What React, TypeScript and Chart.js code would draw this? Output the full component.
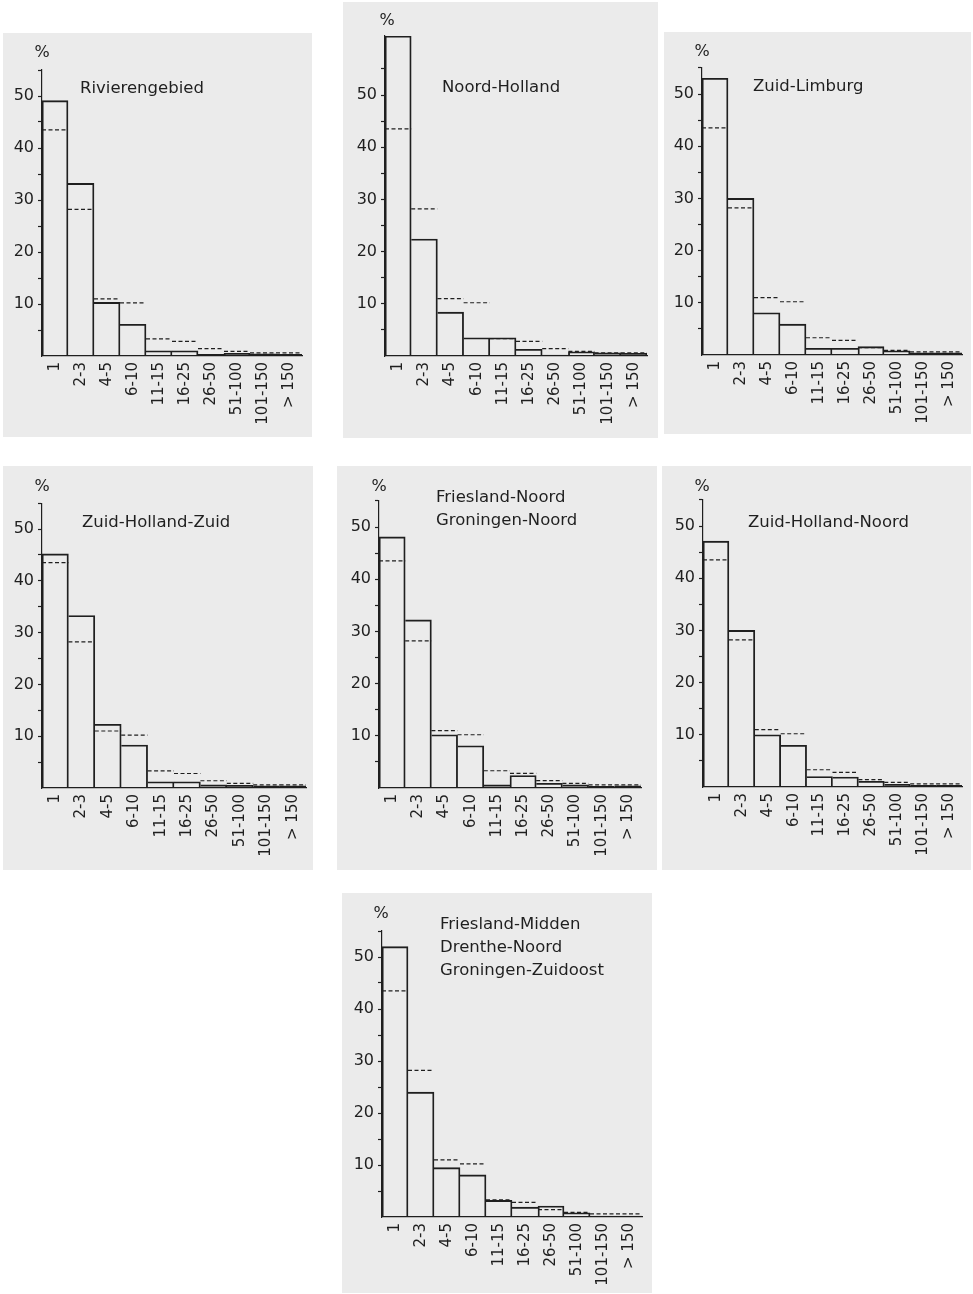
import React, { useEffect, useRef } from 'react';
import { Chart, registerables } from 'chart.js';

Chart.register(...registerables);

// ---------- data ----------
const categories = ['1', '2-3', '4-5', '6-10', '11-15', '16-25', '26-50', '51-100', '101-150', '> 150'];
const yTickLabels = [10, 20, 30, 40, 50];

// dashed reference distribution (same in every panel)
const nederland = [43.5, 28.2, 11.0, 10.2, 3.3, 2.8, 1.4, 0.9, 0.6, 0.6];

const rivierengebied = [49.1, 33.2, 10.3, 6.1, 1.0, 1.0, 0.3, 0.5, 0.4, 0.3];
const noordHolland = [61.3, 22.4, 8.4, 3.5, 3.5, 1.3, 0.2, 0.8, 0.6, 0.5];
const zuidLimburg = [53.0, 30.0, 8.1, 5.9, 1.3, 1.3, 1.6, 0.8, 0.4, 0.4];
const zuidHollandZuid = [45.2, 33.3, 12.3, 8.3, 1.2, 1.2, 0.6, 0.5, 0.4, 0.4];
const frieslandNoord = [48.1, 32.2, 10.2, 8.1, 0.6, 2.4, 0.9, 0.6, 0.3, 0.4];
const zuidHollandNoord = [47.1, 30.0, 10.0, 8.0, 2.0, 1.9, 1.1, 0.5, 0.3, 0.3];
const frieslandMidden = [52.0, 24.0, 9.5, 8.1, 3.2, 1.9, 2.1, 0.8, 0.2, 0.2];

// ---------- layout ----------
const panels = [
  { key: 'p1', title: ['Rivierengebied'], values: rivierengebied,
    box: { left: 3, top: 33, width: 309, height: 404 },
    axis: { x: 42, right: 302, baseline: 356, yMax: 55, ppu: 5.2 },
    titlePos: { x: 80, y: 93 }, pct: { x: 42, y: 57 } },
  { key: 'p2', title: ['Noord-Holland'], values: noordHolland,
    box: { left: 343, top: 2, width: 315, height: 436 },
    axis: { x: 385, right: 647, baseline: 356, yMax: 61.3, ppu: 5.22 },
    titlePos: { x: 442, y: 92 }, pct: { x: 387, y: 25 } },
  { key: 'p3', title: ['Zuid-Limburg'], values: zuidLimburg,
    box: { left: 664, top: 32, width: 307, height: 402 },
    axis: { x: 702, right: 962, baseline: 355, yMax: 55, ppu: 5.22 },
    titlePos: { x: 753, y: 91 }, pct: { x: 702, y: 56 } },
  { key: 'p4', title: ['Zuid-Holland-Zuid'], values: zuidHollandZuid,
    box: { left: 3, top: 466, width: 310, height: 404 },
    axis: { x: 42, right: 306, baseline: 788, yMax: 55, ppu: 5.18 },
    titlePos: { x: 82, y: 527 }, pct: { x: 42, y: 491 } },
  { key: 'p5', title: ['Friesland-Noord', 'Groningen-Noord'], values: frieslandNoord,
    box: { left: 337, top: 466, width: 320, height: 404 },
    axis: { x: 379, right: 641, baseline: 788, yMax: 55, ppu: 5.22 },
    titlePos: { x: 436, y: 502 }, pct: { x: 379, y: 491 } },
  { key: 'p6', title: ['Zuid-Holland-Noord'], values: zuidHollandNoord,
    box: { left: 662, top: 466, width: 309, height: 404 },
    axis: { x: 703, right: 962, baseline: 787, yMax: 55, ppu: 5.22 },
    titlePos: { x: 748, y: 527 }, pct: { x: 702, y: 491 } },
  { key: 'p7', title: ['Friesland-Midden', 'Drenthe-Noord', 'Groningen-Zuidoost'], values: frieslandMidden,
    box: { left: 342, top: 893, width: 310, height: 400 },
    axis: { x: 382, right: 642, baseline: 1217, yMax: 55, ppu: 5.2 },
    titlePos: { x: 440, y: 929 }, pct: { x: 381, y: 918 } },
];

const FONT = '"DejaVu Sans", "Liberation Sans", sans-serif';
const INK = '#1f1f1f';
const PANEL_BG = '#ebebeb';

type PanelDef = (typeof panels)[number];

function Panel({ p }: { p: PanelDef }) {
  const canvasRef = useRef<HTMLCanvasElement | null>(null);
  const b = p.box;
  const a = p.axis;

  useEffect(() => {
    if (!canvasRef.current) return;
    const padTop = a.baseline - a.yMax * a.ppu - b.top;
    const yAxisWidth = a.x - b.left;
    const padRight = b.left + b.width - a.right;
    const xAxisHeight = b.top + b.height - a.baseline;
    const vals = p.values;
    const last = vals.length - 1;

    const refPoints: { x: number; y: number | null }[] = [];
    nederland.forEach((v, i) => {
      refPoints.push({ x: i, y: v }, { x: i + 1, y: v }, { x: i + 1, y: null });
    });

    const chart = new Chart(canvasRef.current, {
      type: 'bar',
      data: {
        labels: categories,
        datasets: [
          {
            type: 'bar',
            data: vals,
            xAxisID: 'x',
            yAxisID: 'y',
            grouped: false,
            backgroundColor: 'rgba(0,0,0,0)',
            borderColor: INK,
            borderSkipped: 'bottom',
            borderWidth: (ctx: any) => {
              const i = ctx.dataIndex;
              return {
                top: 1.2,
                bottom: 0,
                left: i === 0 || vals[i] > vals[i - 1] ? 1.2 : 0,
                right: i === last || vals[i] >= vals[i + 1] ? 1.2 : 0,
              };
            },
            barPercentage: 1,
            categoryPercentage: 1,
            order: 2,
          } as any,
          {
            type: 'line',
            data: refPoints as any,
            xAxisID: 'x2',
            yAxisID: 'y',
            borderColor: INK,
            borderWidth: 1.2,
            borderDash: [4, 2.5],
            pointRadius: 0,
            spanGaps: false,
            fill: false,
            tension: 0,
            order: 1,
          } as any,
        ],
      },
      options: {
        animation: false,
        responsive: false,
        events: [],
        layout: { padding: { top: padTop, right: padRight, left: 0, bottom: 0 } },
        plugins: { legend: { display: false }, tooltip: { enabled: false }, title: { display: false } },
        scales: {
          x: {
            type: 'category',
            offset: true,
            position: 'bottom',
            grid: { display: false, drawTicks: false },
            border: { display: true, color: INK, width: 1.2 },
            ticks: {
              minRotation: 90,
              maxRotation: 90,
              autoSkip: false,
              padding: 6,
              color: INK,
              font: { family: FONT, size: 15 },
            },
            afterFit: (s: any) => {
              s.height = xAxisHeight;
              s.paddingLeft = 0;
              s.paddingRight = 0;
            },
          },
          x2: {
            type: 'linear',
            display: false,
            min: 0,
            max: categories.length,
            offset: false,
          },
          y: {
            type: 'linear',
            min: 0,
            max: a.yMax,
            grid: {
              display: true,
              drawOnChartArea: false,
              drawTicks: true,
              tickLength: 4,
              tickWidth: 1.2,
              tickColor: (ctx: any) =>
                ctx.tick && ctx.tick.value > 0 && Math.abs(ctx.tick.value % 5) < 1e-6 ? INK : 'rgba(0,0,0,0)',
            },
            border: { display: true, color: INK, width: 1.2 },
            ticks: {
              stepSize: 5,
              autoSkip: false,
              padding: 4,
              color: INK,
              font: { family: FONT, size: 16 },
              callback: (v: any) => (yTickLabels.includes(Number(v)) ? String(v) : ''),
            },
            afterFit: (s: any) => {
              s.width = yAxisWidth;
              s.paddingTop = 0;
              s.paddingBottom = 0;
            },
          },
        },
      } as any,
    });
    return () => chart.destroy();
  }, []);

  return (
    <div
      style={{
        position: 'absolute',
        left: b.left,
        top: b.top,
        width: b.width,
        height: b.height,
        background: PANEL_BG,
      }}
    >
      <canvas
        ref={canvasRef}
        width={b.width}
        height={b.height}
        style={{ display: 'block', width: b.width, height: b.height }}
      />
      <div
        style={{
          position: 'absolute',
          left: p.titlePos.x - b.left,
          top: p.titlePos.y - 17 - b.top,
          fontFamily: FONT,
          fontSize: 16.5,
          lineHeight: '23px',
          color: INK,
          whiteSpace: 'pre',
        }}
      >
        {p.title.map((line) => (
          <div key={line}>{line}</div>
        ))}
      </div>
      <div
        style={{
          position: 'absolute',
          left: p.pct.x - 20 - b.left,
          top: p.pct.y - 15 - b.top,
          width: 40,
          textAlign: 'center',
          fontFamily: FONT,
          fontSize: 16,
          lineHeight: '19px',
          color: INK,
        }}
      >
        %
      </div>
    </div>
  );
}

export default function App() {
  return (
    <div
      style={{
        position: 'absolute',
        left: 0,
        top: 0,
        width: 973,
        height: 1294,
        background: '#ffffff',
        overflow: 'hidden',
      }}
    >
      {panels.map((p) => (
        <Panel key={p.key} p={p} />
      ))}
    </div>
  );
}
